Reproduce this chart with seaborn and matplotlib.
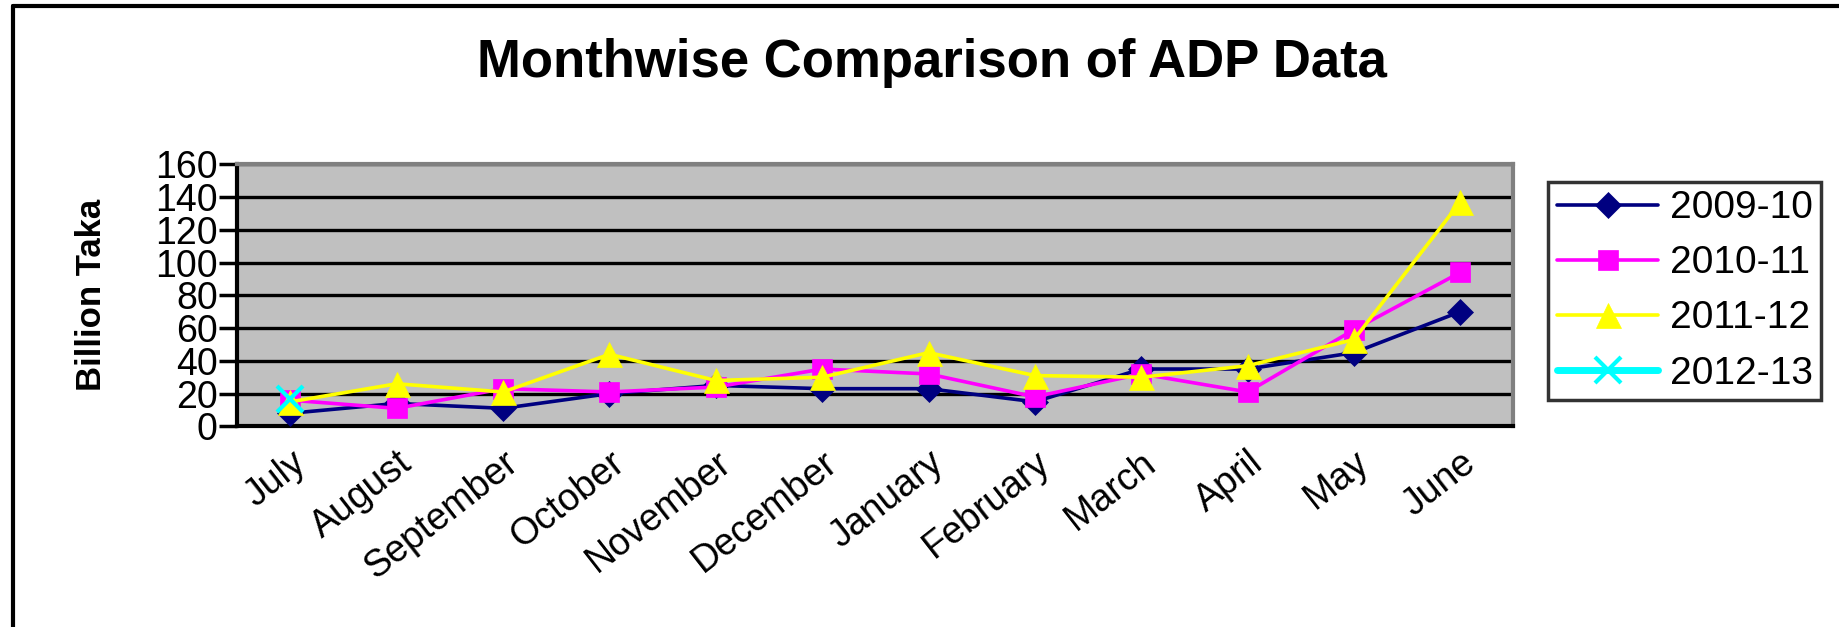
import numpy as np
import pandas as pd
import seaborn as sns
import matplotlib.pyplot as plt
from matplotlib.lines import Line2D

# Data (billion Taka)
months = ['July', 'August', 'September', 'October', 'November', 'December',
          'January', 'February', 'March', 'April', 'May', 'June']
fy0910 = [8, 14, 11, 20, 25, 23, 23, 15, 35, 35, 45, 70]
fy1011 = [16, 11, 23, 21, 24, 35, 32, 18, 32, 21, 59, 94]
fy1112 = [15, 26, 21, 44, 28, 30, 45, 31, 30, 37, 53, 137]
fy1213 = [17]

series = ['2009-10', '2010-11', '2011-12', '2012-13']
values = [fy0910, fy1011, fy1112, fy1213]
colors = ['#000080', '#ff00ff', '#ffff00', '#00ffff']
markers = ['D', 's', '^', 'x']
msizes = [13, 14, 18, 19]

sns.set_style('white')
plt.rcParams['font.family'] = ['Liberation Sans', 'DejaVu Sans']
plt.rcParams['text.color'] = 'black'
plt.rcParams['axes.labelcolor'] = 'black'
plt.rcParams['xtick.color'] = 'black'
plt.rcParams['ytick.color'] = 'black'

fig = plt.figure(figsize=(18.39, 6.27), dpi=100)
ax = fig.add_axes([0.129, 0.32, 0.694, 0.418])
ax.set_facecolor('#c0c0c0')

for name, vals, c, m, ms in zip(series, values, colors, markers, msizes):
    df = pd.DataFrame({'pos': np.arange(len(vals)), 'value': vals})
    sns.lineplot(data=df, x='pos', y='value', ax=ax, color=c, marker=m,
                 markersize=ms, markeredgecolor=c,
                 markeredgewidth=3 if m == 'x' else 0.5,
                 linewidth=2.6, label=name, zorder=3)

ax.set_xlim(-0.5, len(months) - 0.5)
ax.set_ylim(0, 160)
ax.set_yticks(range(0, 161, 20))
ax.yaxis.grid(True, color='black', linewidth=2.4)
ax.set_axisbelow(True)

# labels at category centers, ticks at boundaries
ax.set_xticks(np.arange(len(months)))
ax.set_xticklabels(months, rotation=38, ha='right', rotation_mode='anchor',
                   fontsize=27)
ax.set_xticks(np.arange(-0.5, len(months), 1), minor=True)
ax.tick_params(axis='x', which='major', length=0, pad=13)
ax.tick_params(axis='x', which='minor', length=11, width=2.5, color='black',
               direction='out')
ax.tick_params(axis='y', length=13, width=2.5, color='black', direction='out',
               labelsize=27, pad=1, left=True)

for side in ['left', 'bottom']:
    ax.spines[side].set_color('black')
    ax.spines[side].set_linewidth(3)
for side in ['top', 'right']:
    ax.spines[side].set_color('#808080')
    ax.spines[side].set_linewidth(3)

ax.set_xlabel('')
ax.set_ylabel('Billion Taka', fontsize=25, fontweight='bold',
              family=['Liberation Sans Narrow', 'Liberation Sans'], labelpad=34)

fig.suptitle('Monthwise Comparison of ADP Data', fontsize=38, fontweight='bold',
             x=0.507, y=0.94)

leg = ax.legend(loc='upper left', bbox_to_anchor=(0.842, 0.71),
                bbox_transform=fig.transFigure, fontsize=28, frameon=True,
                fancybox=False, edgecolor='black', handlelength=2.6,
                handletextpad=0.3, labelspacing=0.49, borderpad=0.22,
                borderaxespad=0)
leg.get_frame().set_linewidth(2.5)
leg.get_lines()[3].set_linewidth(5)

# outer chart border, cut off on the right and bottom
fig.add_artist(Line2D([0.0068, 0.0068], [0, 0.99], color='black', linewidth=3,
                      transform=fig.transFigure))
fig.add_artist(Line2D([0.0068, 1], [0.99, 0.99], color='black', linewidth=3,
                      transform=fig.transFigure))

fig.savefig('out.png', dpi=100)
